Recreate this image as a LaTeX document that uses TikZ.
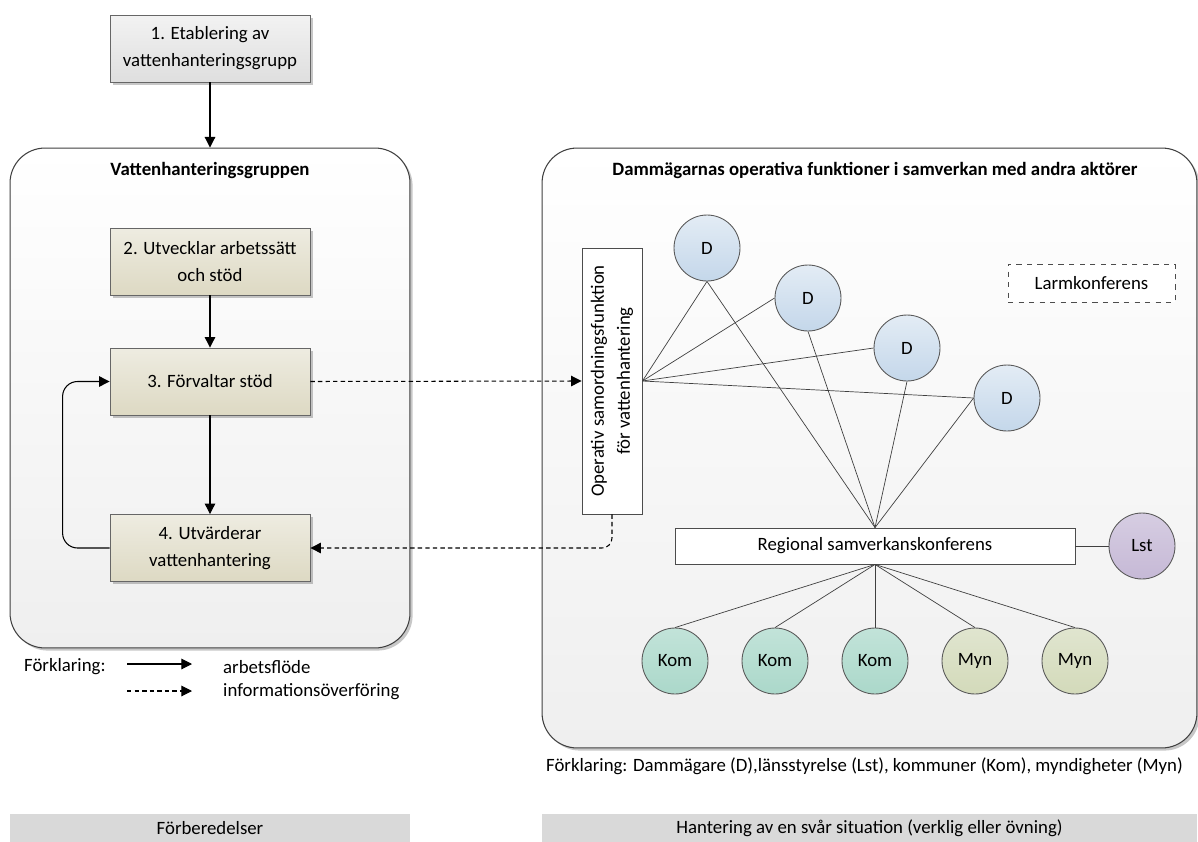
\documentclass[tikz,border=0pt]{standalone}
\usepackage{fontspec}
\setmainfont{Carlito}
\usetikzlibrary{arrows.meta,shadows}

\definecolor{boxgray}{HTML}{F2F2F2}
\definecolor{tanTop}{HTML}{EEECE1}
\definecolor{tanBot}{HTML}{DDD9C3}
\definecolor{grpBot}{HTML}{EFEFEF}
\definecolor{dTop}{HTML}{E3ECF5}
\definecolor{dBot}{HTML}{C4D7EA}
\definecolor{komTop}{HTML}{C2E3D9}
\definecolor{komBot}{HTML}{ABD8CA}
\definecolor{mynTop}{HTML}{E0E5CF}
\definecolor{mynBot}{HTML}{D3DABA}
\definecolor{lstTop}{HTML}{D6CDE2}
\definecolor{lstBot}{HTML}{C6B9D6}
\definecolor{barGray}{HTML}{D9D9D9}
\definecolor{lineGray}{HTML}{404040}

\tikzset{
  txt/.style={font=\fontsize{10.7}{12.8}\selectfont},
  bold/.style={font=\fontsize{10.7}{12.8}\selectfont\bfseries},
  softshadow/.style={drop shadow={shadow xshift=1.5pt,shadow yshift=-1.5pt,fill=black,opacity=0.22}},
  grp/.style={draw=lineGray, line width=0.6pt, rounded corners=0.7cm,
    top color=white, bottom color=grpBot, softshadow},
  stepbox/.style={txt, draw=black!60, line width=0.5pt, align=center,
    minimum width=4cm, minimum height=1.34cm, top color=tanTop, bottom color=tanBot, softshadow},
  startbox/.style={stepbox, top color=boxgray, bottom color=boxgray!92!black},
  actor/.style={txt, circle, draw=black!65, line width=0.5pt, minimum size=1.32cm, inner sep=0pt},
  dactor/.style={actor, top color=dTop, bottom color=dBot},
  komactor/.style={actor, top color=komTop, bottom color=komBot},
  mynactor/.style={actor, top color=mynTop, bottom color=mynBot},
  lstactor/.style={actor, top color=lstTop, bottom color=lstBot},
  flow/.style={-{Triangle[length=6pt,width=6pt]}, line width=0.6pt, draw=black},
  info/.style={flow, dash pattern=on 2.5pt off 1.8pt},
  link/.style={draw=lineGray, line width=0.4pt},
  bar/.style={txt, fill=barGray, inner sep=0pt},
}

\begin{document}
\begin{tikzpicture}[x=0.02cm, y=-0.02cm]
\useasboundingbox[fill=white] (0,0) rectangle (1198,842);

% --- preparation side ---
\node[startbox] (b1) at (210,48.5) {1. Etablering av\\[2.5pt]vattenhanteringsgrupp};
\node[grp, minimum width=8cm, minimum height=10cm] (lg) at (210,398) {};
\node[bold] (lgt) at (210,170) {Vattenhanteringsgruppen};
\node[stepbox] (b2) at (210,261.5) {2. Utvecklar arbetssätt\\[2.5pt]och stöd};
\node[stepbox] (b3) at (210,381.5) {3. Förvaltar stöd};
\node[stepbox] (b4) at (210,548) {4. Utvärderar\\[2.5pt]vattenhantering};

\draw[flow] (b1.south) -- (lg.north);
\draw[flow] (b2.south) -- (b3.north);
\draw[flow] (b3.south) -- (b4.north);
\draw[flow, rounded corners=0.3cm] (b4.west) -- ++(-47,0) |- (b3.west);

% legend, left
\node[txt, anchor=west] (lk) at (18,667) {Förklaring:};
\coordinate (la1) at (127,664);
\coordinate (la2) at (192,664);
\coordinate (lb1) at (127,691);
\coordinate (lb2) at (192,691);
\draw[flow] (la1) -- (la2);
\draw[info] (lb1) -- (lb2);
\node[txt, anchor=west] (lwork) at (217,667) {arbetsflöde};
\node[txt, anchor=west] (linfo) at (217,692) {informationsöverföring};

% --- operational side ---
\node[grp, minimum width=13.1cm, minimum height=12cm] (rg) at (869.5,448) {};
\node[bold] (rgt) at (875,170) {Dammägarnas operativa funktioner i samverkan med andra aktörer};

\node[draw=black!70, line width=0.5pt, fill=white, minimum width=1.2cm, minimum height=5.32cm, inner sep=0pt] (op) at (612,381) {};
\node[txt, rotate=90, align=center] (opt) at (op.center) {Operativ samordningsfunktion\\[2pt]för vattenhantering};

\node[dactor] (d1) at (707,248) {D};
\node[dactor] (d2) at (808,298) {D};
\node[dactor] (d3) at (907,348) {D};
\node[dactor] (d4) at (1007,398) {D};

\node[txt, draw=black!70, dashed, fill=white, minimum width=3.34cm, minimum height=0.76cm] (larm) at (1091.5,283) {Larmkonferens};

\node[txt, draw=black!70, line width=0.5pt, fill=white, minimum width=8cm, minimum height=0.72cm] (reg) at (875,546) {Regional samverkanskonferens};
\node[lstactor] (lst) at (1142,546) {Lst};

\node[komactor] (k1) at (675,661) {Kom};
\node[komactor] (k2) at (775,661) {Kom};
\node[komactor] (k3) at (875,661) {Kom};
\node[mynactor] (m1) at (975,661) {Myn};
\node[mynactor] (m2) at (1075,661) {Myn};

% coordination lines
\draw[link] (op.east) -- (d1.south);
\draw[link] (op.east) -- (d2.west);
\draw[link] (op.east) -- (d3.west);
\draw[link] (op.east) -- (d4.west);
\draw[link] (d1.south) -- (reg.north);
\draw[link] (d2.south) -- (reg.north);
\draw[link] (d3.south) -- (reg.north);
\draw[link] (d4.west) -- (reg.north);
\draw[link] (reg.east) -- (lst.west);
\foreach \a in {k1,k2,k3,m1,m2} \draw[link] (reg.south) -- (\a.north);

% information exchange
\draw[info] (b3.east) -- (op.west);
\draw[info, rounded corners=0.2cm] (op.south) |- (b4.east);

\node[txt, anchor=east] (rk) at (1189,766) {Förklaring: Dammägare (D),länsstyrelse (Lst), kommuner (Kom), myndigheter (Myn)};

% phase bars
\node[bar, minimum width=8cm, minimum height=0.56cm] (p1) at (210,828) {Förberedelser};
\node[bar, minimum width=13.1cm, minimum height=0.56cm] (p2) at (869.5,828) {Hantering av en svår situation (verklig eller övning)};
\end{tikzpicture}
\end{document}
